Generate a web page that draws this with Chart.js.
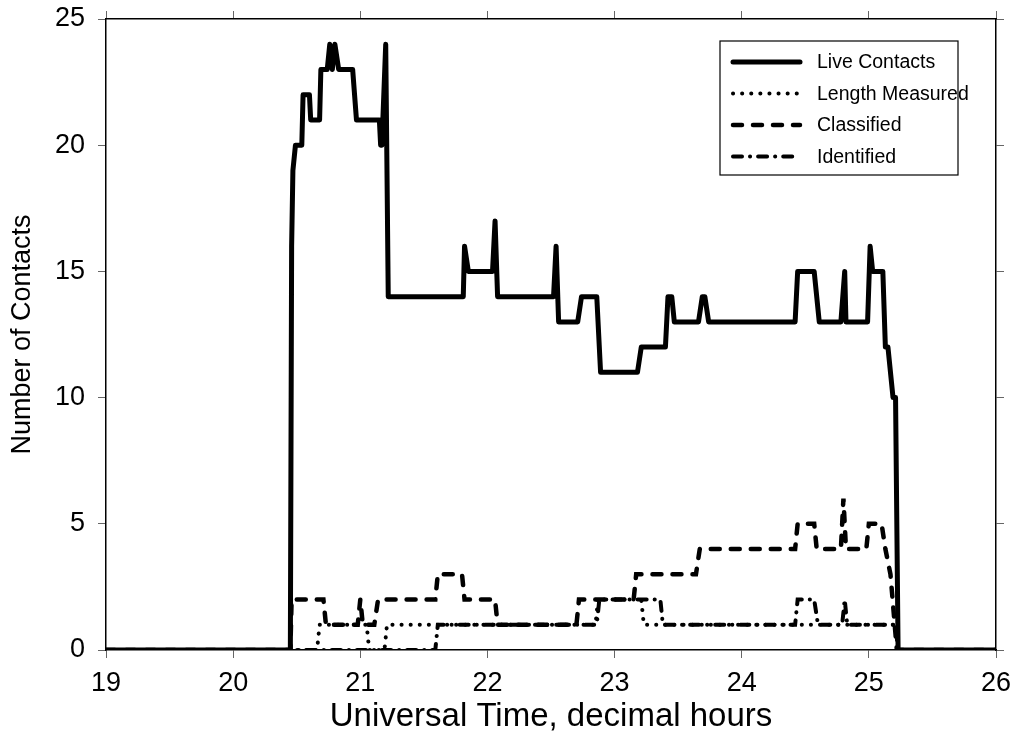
<!DOCTYPE html>
<html>
<head>
<meta charset="utf-8">
<title>Contacts vs Universal Time</title>
<script src="https://cdn.jsdelivr.net/npm/chart.js@4/dist/chart.umd.min.js"></script>
<style>
  html, body { margin: 0; padding: 0; background: #fff; }
  #wrap { width: 1014px; height: 734px; }
</style>
</head>
<body>
<div id="wrap"><canvas id="chart" width="1014" height="734"></canvas></div>
<script>
// time in decimal hours (UT) and number of contacts at each step
const liveTime = [19.0, 20.45, 20.46, 20.47, 20.49, 20.54, 20.55, 20.60, 20.61, 20.68, 20.69, 20.74, 20.76, 20.78, 20.80, 20.83,
  20.94, 20.97, 21.15, 21.16, 21.17, 21.20, 21.22, 21.81, 21.82, 21.85, 22.04, 22.06, 22.08, 22.52, 22.54, 22.56,
  22.71, 22.74, 22.86, 22.89, 23.18, 23.21, 23.40, 23.42, 23.45, 23.47, 23.66, 23.69, 23.71, 23.74, 24.42, 24.44,
  24.57, 24.61, 24.78, 24.81, 24.82, 24.99, 25.01, 25.03, 25.11, 25.13, 25.15, 25.19, 25.21, 25.23, 26.0];
const liveCount = [0, 0, 16, 19, 20, 20, 22, 22, 21, 21, 23, 23, 24, 23, 24, 23,
  23, 21, 21, 20, 20, 24, 14, 14, 16, 15, 15, 17, 14, 14, 16, 13,
  13, 14, 14, 11, 11, 12, 12, 14, 14, 13, 13, 14, 14, 13, 13, 15,
  15, 13, 13, 15, 13, 13, 16, 15, 15, 12, 12, 10, 10, 0, 0];

const lengthTime = [19.0, 20.66, 20.68, 21.05, 21.07, 21.19, 21.21, 22.85, 22.87, 23.21, 23.23, 25.21, 25.23, 26.0];
const lengthCount = [0, 0, 1, 1, 0, 0, 1, 1, 2, 2, 1, 1, 0, 0];

const classTime = [19.0, 20.45, 20.46, 20.71, 20.73, 20.98, 21.00, 21.02, 21.11, 21.14, 21.59, 21.61, 21.80, 21.82,
  22.06, 22.08, 22.70, 22.72, 23.15, 23.17, 23.64, 23.67, 24.42, 24.44, 24.57, 24.59, 24.78, 24.80, 24.82,
  24.98, 25.00, 25.10, 25.13, 25.17, 25.22, 26.0];
const classCount = [0, 0, 2, 2, 1, 1, 2, 1, 1, 2, 2, 3, 3, 2,
  2, 1, 1, 2, 2, 3, 3, 4, 4, 5, 5, 4, 4, 6, 4,
  4, 5, 5, 4, 3, 0, 0];

const identTime = [19.0, 21.59, 21.61, 22.86, 22.88, 23.36, 23.38, 24.42, 24.44, 24.57, 24.60, 24.79, 24.81, 24.83, 25.21, 25.23, 26.0];
const identCount = [0, 0, 1, 1, 2, 2, 1, 1, 2, 2, 1, 1, 2, 1, 1, 0, 0];

const xTicks = [19, 20, 21, 22, 23, 24, 25, 26];
const yTicks = [0, 5, 10, 15, 20, 25];

const pts = (t, v) => t.map((x, i) => ({ x: x, y: v[i] }));

const FONT = 'Liberation Sans, Arial, sans-serif';

// legend drawn as a framed box in the upper right, with line samples
const boxLegend = {
  id: 'boxLegend',
  afterDraw(chart) {
    const ctx = chart.ctx;
    const x0 = 720, y0 = 41, w = 238, h = 134;
    ctx.save();
    ctx.fillStyle = '#fff';
    ctx.fillRect(x0, y0, w, h);
    ctx.strokeStyle = '#000';
    ctx.lineWidth = 1.2;
    ctx.strokeRect(x0, y0, w, h);
    ctx.font = '19.5px ' + FONT;
    ctx.textBaseline = 'middle';
    ctx.fillStyle = '#000';
    chart.data.datasets.forEach((ds, i) => {
      const y = y0 + 21 + i * 31.5;
      ctx.beginPath();
      ctx.setLineDash(ds.borderDash || []);
      ctx.lineCap = ds.borderCapStyle || 'butt';
      ctx.lineWidth = ds.borderWidth;
      ctx.strokeStyle = ds.borderColor;
      ctx.moveTo(x0 + 13, y);
      ctx.lineTo(x0 + 80, y);
      ctx.stroke();
      ctx.setLineDash([]);
      ctx.fillText(ds.label, x0 + 97, y + 1);
    });
    ctx.restore();
  }
};

const tickGrid = { drawOnChartArea: false, drawTicks: true, tickLength: 8, tickColor: '#666', tickWidth: 1 };
const frame = { display: true, color: '#000', width: 1.5 };

// fixed axis sizes so the plot area sits at the same place every time
const fixX = h => s => { s.height = h; s.paddingLeft = 0; s.paddingRight = 0; };
const fixY = w => s => { s.width = w; s.paddingTop = 0; s.paddingBottom = 0; };

new Chart(document.getElementById('chart'), {
  type: 'line',
  data: {
    datasets: [
      {
        label: 'Live Contacts',
        data: pts(liveTime, liveCount),
        borderColor: '#000',
        borderWidth: 5,
        borderJoinStyle: 'round',
        borderCapStyle: 'round'
      },
      {
        label: 'Length Measured',
        data: pts(lengthTime, lengthCount),
        borderColor: '#000',
        borderWidth: 4,
        borderDash: [0.1, 9],
        borderCapStyle: 'round'
      },
      {
        label: 'Classified',
        data: pts(classTime, classCount),
        borderColor: '#000',
        borderWidth: 4.5,
        borderDash: [9, 11],
        borderCapStyle: 'round'
      },
      {
        label: 'Identified',
        data: pts(identTime, identCount),
        borderColor: '#000',
        borderWidth: 4,
        borderDash: [9, 8, 0.1, 8],
        borderCapStyle: 'round'
      }
    ]
  },
  options: {
    responsive: false,
    animation: false,
    events: [],
    layout: { padding: 0 },
    elements: { point: { radius: 0 }, line: { tension: 0, fill: false } },
    plugins: { legend: { display: false }, tooltip: { enabled: false } },
    scales: {
      x: {
        type: 'linear', position: 'bottom', min: 19, max: 26,
        afterBuildTicks: s => { s.ticks = xTicks.map(v => ({ value: v })); },
        afterFit: fixX(84),
        grid: tickGrid, border: frame,
        ticks: { color: '#000', font: { family: FONT, size: 27 }, padding: 9 },
        title: { display: true, text: 'Universal Time, decimal hours', color: '#000', font: { family: FONT, size: 33 }, padding: { top: 0, bottom: -3 } }
      },
      x2: {
        type: 'linear', position: 'top', min: 19, max: 26,
        afterBuildTicks: s => { s.ticks = xTicks.map(v => ({ value: v })); },
        afterFit: fixX(19),
        grid: tickGrid, border: frame,
        ticks: { display: false }
      },
      y: {
        type: 'linear', position: 'left', min: 0, max: 25,
        afterBuildTicks: s => { s.ticks = yTicks.map(v => ({ value: v })); },
        afterFit: fixY(106),
        grid: tickGrid, border: frame,
        ticks: { color: '#000', font: { family: FONT, size: 27 }, padding: 13 },
        title: { display: true, text: 'Number of Contacts', color: '#000', font: { family: FONT, size: 27 }, padding: { top: 6, bottom: 0 } }
      },
      y2: {
        type: 'linear', position: 'right', min: 0, max: 25,
        afterBuildTicks: s => { s.ticks = yTicks.map(v => ({ value: v })); },
        afterFit: fixY(18),
        grid: tickGrid, border: frame,
        ticks: { display: false }
      }
    }
  },
  plugins: [boxLegend]
});
</script>
</body>
</html>
